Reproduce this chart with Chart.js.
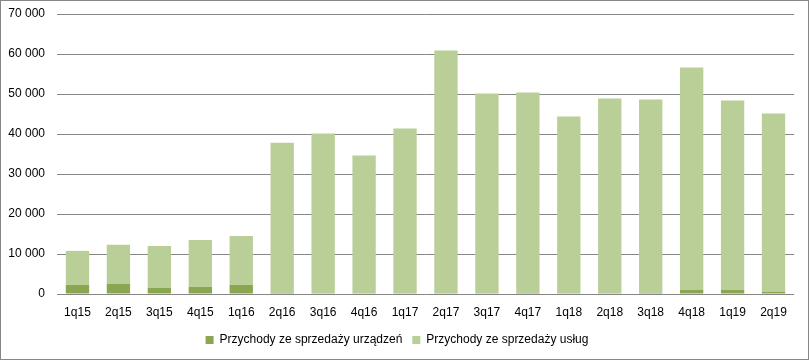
<!DOCTYPE html>
<html>
<head>
<meta charset="utf-8">
<script src="https://cdn.jsdelivr.net/npm/chart.js@4/dist/chart.umd.min.js"></script>
<style>
html,body{margin:0;padding:0;background:#fff;}
#wrap{position:relative;width:809px;height:360px;}
</style>
</head>
<body>
<div id="wrap"><canvas id="c" width="809" height="360"></canvas></div>
<script>
const categories = ["1q15","2q15","3q15","4q15","1q16","2q16","3q16","4q16","1q17","2q17","3q17","4q17","1q18","2q18","3q18","4q18","1q19","2q19"];
const devices = [2300,2600,1600,1800,2300,300,100,100,100,100,100,300,100,100,300,1100,1100,600];
const services = [8500,9700,10400,11700,12200,37500,40000,34500,41300,60800,50000,50100,44300,48800,48300,55500,47300,44500];
const seriesNames = ["Przychody ze sprzedaży urządzeń","Przychody ze sprzedaży usług"];
const yTicks = {min:0, max:70000, step:10000};

const borderPlugin = {
  id:'border',
  afterDraw(chart){
    const ctx = chart.ctx;
    ctx.save();
    ctx.strokeStyle = '#868686';
    ctx.lineWidth = 1;
    ctx.strokeRect(0.5,0.5,chart.width-1,chart.height-1);
    ctx.restore();
  }
};

Chart.defaults.font.family = "'Liberation Sans', Arial, sans-serif";
Chart.defaults.font.size = 12;
Chart.defaults.color = '#000';

new Chart(document.getElementById('c'), {
  type:'bar',
  data:{
    labels:categories,
    datasets:[
      {label:seriesNames[0], data:devices, backgroundColor:'#8BA650', barPercentage:0.57, categoryPercentage:1},
      {label:seriesNames[1], data:services, backgroundColor:'#BACE98', barPercentage:0.57, categoryPercentage:1}
    ]
  },
  options:{
    responsive:false,
    animation:false,
    layout:{padding:{left:0,right:15,top:14,bottom:4}},
    plugins:{
      legend:{
        position:'bottom',
        labels:{boxWidth:8, boxHeight:8, padding:10, color:'#000', font:{size:12}}
      },
      tooltip:{enabled:false}
    },
    scales:{
      x:{
        stacked:true,
        grid:{display:false, drawTicks:false},
        border:{display:false},
        ticks:{padding:11, maxRotation:0, autoSkip:false, color:'#000'},
        afterFit(s){ s.height = 30; }
      },
      y:{
        stacked:true,
        min:yTicks.min, max:yTicks.max,
        grid:{color:'#868686', lineWidth:1, drawTicks:false},
        border:{display:false},
        ticks:{
          stepSize:yTicks.step, padding:12, color:'#000',
          callback:v => String(v).replace(/\B(?=(\d{3})+(?!\d))/g,' ')
        },
        afterFit(s){ s.width = 57; s.paddingTop = 0; s.paddingBottom = 0; }
      }
    }
  },
  plugins:[borderPlugin]
});
</script>
</body>
</html>
